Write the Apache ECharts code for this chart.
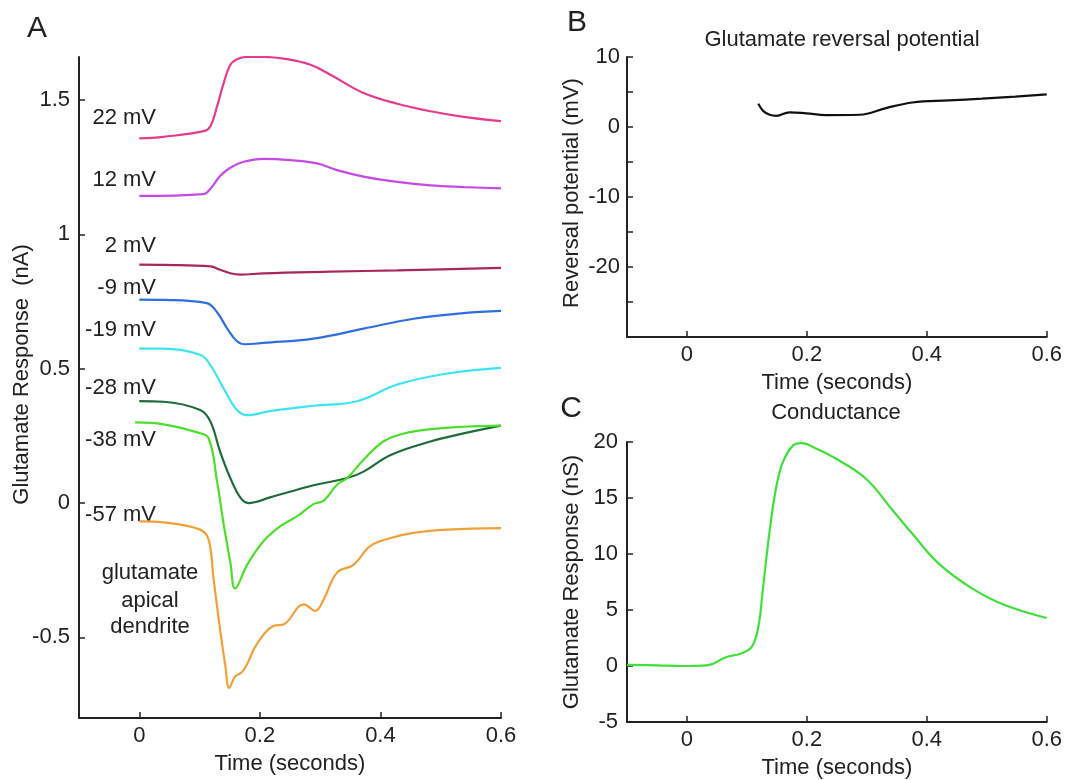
<!DOCTYPE html>
<html>
<head>
<meta charset="utf-8">
<script src="https://cdn.jsdelivr.net/npm/echarts@6/dist/echarts.min.js"></script>
<style>
  html, body { margin: 0; padding: 0; background: #fff; }
  #chart { width: 1065px; height: 780px; }
</style>
</head>
<body>
<div id="chart"></div>
<script>
// panel A: glutamate response (nA) at each holding potential
const t22 = [0, 0.04, 0.107, 0.118, 0.129, 0.14, 0.151, 0.162, 0.179, 0.206, 0.245, 0.284, 0.317, 0.372, 0.428, 0.483, 0.538, 0.6]
const v22 = [1.357, 1.363, 1.384, 1.402, 1.476, 1.563, 1.631, 1.652, 1.66, 1.66, 1.652, 1.631, 1.594, 1.526, 1.486, 1.458, 1.437, 1.421]
const t12 = [0, 0.107, 0.118, 0.134, 0.151, 0.173, 0.206, 0.251, 0.295, 0.328, 0.372, 0.428, 0.483, 0.538, 0.6]
const v12 = [1.143, 1.15, 1.17, 1.217, 1.248, 1.27, 1.281, 1.276, 1.264, 1.239, 1.215, 1.195, 1.182, 1.176, 1.171]
const t2 = [0, 0.04, 0.118, 0.134, 0.151, 0.167, 0.206, 0.317, 0.428, 0.6]
const v2 = [0.887, 0.886, 0.881, 0.868, 0.855, 0.85, 0.855, 0.861, 0.866, 0.875]
const tm9 = [0, 0.04, 0.112, 0.129, 0.146, 0.162, 0.176, 0.206, 0.289, 0.372, 0.455, 0.538, 0.6]
const vm9 = [0.757, 0.756, 0.744, 0.71, 0.649, 0.602, 0.591, 0.596, 0.612, 0.649, 0.686, 0.707, 0.715]
const tm19 = [0, 0.04, 0.101, 0.118, 0.14, 0.162, 0.179, 0.217, 0.289, 0.361, 0.428, 0.511, 0.6]
const vm19 = [0.575, 0.575, 0.552, 0.513, 0.426, 0.346, 0.327, 0.342, 0.362, 0.379, 0.441, 0.482, 0.503]
const tm28 = [0, 0.04, 0.101, 0.118, 0.134, 0.151, 0.168, 0.181, 0.217, 0.289, 0.345, 0.372, 0.417, 0.483, 0.538, 0.6]
const vm28 = [0.379, 0.377, 0.346, 0.303, 0.192, 0.093, 0.019, 0.0, 0.021, 0.066, 0.093, 0.117, 0.179, 0.229, 0.259, 0.288]
const tm38 = [-0.007, 0.04, 0.096, 0.115, 0.129, 0.14, 0.151, 0.159, 0.179, 0.206, 0.234, 0.262, 0.289, 0.306, 0.328, 0.345, 0.372, 0.405, 0.439, 0.483, 0.538, 0.6]
const vm38 = [0.3, 0.293, 0.263, 0.241, 0.08, -0.08, -0.22, -0.318, -0.229, -0.142, -0.086, -0.049, -0.004, 0.009, 0.068, 0.093, 0.161, 0.229, 0.259, 0.275, 0.284, 0.288]
const tm57 = [0, 0.04, 0.101, 0.115, 0.123, 0.134, 0.143, 0.149, 0.159, 0.17, 0.179, 0.195, 0.223, 0.24, 0.273, 0.292, 0.306, 0.328, 0.356, 0.383, 0.417, 0.455, 0.511, 0.6]
const vm57 = [-0.068, -0.072, -0.099, -0.136, -0.278, -0.47, -0.61, -0.688, -0.646, -0.63, -0.599, -0.525, -0.457, -0.451, -0.377, -0.401, -0.358, -0.259, -0.229, -0.16, -0.13, -0.111, -0.099, -0.093]

// panel B: reversal potential (mV)
const tRev = [0.119, 0.127, 0.138, 0.149, 0.171, 0.199, 0.232, 0.288, 0.332, 0.376, 0.437, 0.492, 0.548, 0.6]
const vRev = [3.34, 2.3, 1.75, 1.6, 2.1, 1.95, 1.7, 1.75, 2.7, 3.5, 3.8, 4.05, 4.35, 4.67]

// panel C: conductance (nS)
const tCond = [-0.1, -0.05, -0.006, 0.033, 0.066, 0.089, 0.108, 0.119, 0.127, 0.138, 0.149, 0.16, 0.177, 0.191, 0.216, 0.249, 0.299, 0.343, 0.376, 0.42, 0.476, 0.531, 0.6]
const vCond = [0.1, 0.06, 0, 0.06, 0.8, 1.1, 1.7, 3.48, 7.05, 12.1, 16.0, 18.2, 19.7, 19.9, 19.4, 18.5, 16.7, 13.9, 11.8, 9.14, 6.91, 5.42, 4.29]

const timeTicks = [0, 0.2, 0.4, 0.6]
const nATicks = [-0.5, 0, 0.5, 1, 1.5]

const traces = [
  { label: '22 mV', t: t22, v: v22, color: '#e63b8e' },
  { label: '12 mV', t: t12, v: v12, color: '#c54ae8' },
  { label: '2 mV', t: t2, v: v2, color: '#a8285e' },
  { label: '-9 mV', t: tm9, v: vm9, color: '#2f6fe0' },
  { label: '-19 mV', t: tm19, v: vm19, color: '#3fe4f2' },
  { label: '-28 mV', t: tm28, v: vm28, color: '#1e6b3c' },
  { label: '-38 mV', t: tm38, v: vm38, color: '#4cdf2c' },
  { label: '-57 mV', t: tm57, v: vm57, color: '#f2a03a' }
]

const font = "'Liberation Sans', Arial, Helvetica, sans-serif"
const ink = '#222'
const fs = 22

function zip(t, v) {
  return t.map((x, i) => [x, v[i]])
}

function timeAxis(gridIndex) {
  return {
    type: 'value',
    gridIndex: gridIndex,
    min: -0.1,
    max: 0.6,
    name: 'Time (seconds)',
    nameLocation: 'middle',
    nameGap: 35,
    nameTextStyle: { fontSize: fs, color: ink, fontFamily: font },
    axisLine: { show: true, onZero: false, lineStyle: { color: ink, width: 2 } },
    axisTick: { show: true, inside: true, length: 6, customValues: timeTicks, lineStyle: { color: ink, width: 1.5 } },
    axisLabel: { customValues: timeTicks, fontSize: fs, color: ink, fontFamily: font, margin: 7 },
    splitLine: { show: false }
  }
}

function valueAxis(gridIndex, extra) {
  return Object.assign({
    type: 'value',
    gridIndex: gridIndex,
    nameLocation: 'middle',
    nameMoveOverlap: false,
    axisLine: { show: true, onZero: false, lineStyle: { color: ink, width: 2 } },
    splitLine: { show: false }
  }, extra)
}

function line(xi, data, color) {
  return {
    type: 'line',
    xAxisIndex: xi,
    yAxisIndex: xi,
    data: data,
    showSymbol: false,
    smooth: 0.4,
    lineStyle: { color: color, width: 2.2 },
    itemStyle: { color: color },
    silent: true,
    animation: false
  }
}

function text(str, x, y, size, align) {
  return {
    type: 'text',
    x: x,
    y: y,
    style: {
      text: str,
      fill: ink,
      font: size + 'px ' + font,
      textAlign: align || 'center',
      textVerticalAlign: 'middle'
    }
  }
}

let chart = echarts.init(document.getElementById('chart'))

let labelY = [118, 180, 246, 288, 330, 388, 440, 515]
let graphics = traces.map((tr, i) => text(tr.label, 156, labelY[i], fs, 'right'))
graphics.push(
  text('glutamate', 150, 573, fs),
  text('apical', 150, 601, fs),
  text('dendrite', 150, 627, fs),
  text('A', 37, 29, 30),
  text('B', 577, 23, 30),
  text('C', 571, 409, 30),
  text('Glutamate reversal potential', 842, 40, fs),
  text('Conductance', 836, 413, fs)
)

chart.setOption({
  backgroundColor: '#fff',
  animation: false,
  grid: [
    { left: 79, top: 57, width: 422, height: 665 },
    { left: 627, top: 57, width: 421, height: 280 },
    { left: 627, top: 442, width: 421, height: 280 }
  ],
  xAxis: [timeAxis(0), timeAxis(1), timeAxis(2)],
  yAxis: [
    valueAxis(0, {
      min: -0.8,
      max: 1.66,
      name: 'Glutamate Response  (nA)',
      nameGap: 46,
      nameTextStyle: { fontSize: fs, color: ink, fontFamily: font, padding: [0, 0, 0, 26] },
      axisTick: { show: true, inside: true, length: 6, customValues: nATicks, lineStyle: { color: ink, width: 1.5 } },
      axisLabel: { customValues: nATicks, fontSize: fs, color: ink, fontFamily: font, margin: 9 }
    }),
    valueAxis(1, {
      min: -30,
      max: 10,
      interval: 5,
      name: 'Reversal potential (mV)',
      nameGap: 44,
      nameTextStyle: { fontSize: fs, color: ink, fontFamily: font, padding: [0, 0, 0, 8] },
      axisTick: { show: true, inside: true, length: 6, lineStyle: { color: ink, width: 1.5 } },
      axisLabel: {
        fontSize: fs, color: ink, fontFamily: font, margin: 7,
        formatter: v => (v % 10 === 0 && v > -30) ? String(v) : ''
      }
    }),
    valueAxis(2, {
      min: -5,
      max: 20,
      interval: 5,
      name: 'Glutamate Response (nS)',
      nameGap: 44,
      nameTextStyle: { fontSize: fs, color: ink, fontFamily: font },
      axisTick: { show: true, inside: true, length: 6, lineStyle: { color: ink, width: 1.5 } },
      axisLabel: { fontSize: fs, color: ink, fontFamily: font, margin: 9 }
    })
  ],
  series: traces.map(tr => line(0, zip(tr.t, tr.v), tr.color)).concat([
    line(1, zip(tRev, vRev), '#111'),
    line(2, zip(tCond, vCond), '#3fe03a')
  ]),
  graphic: graphics
})
</script>
</body>
</html>
